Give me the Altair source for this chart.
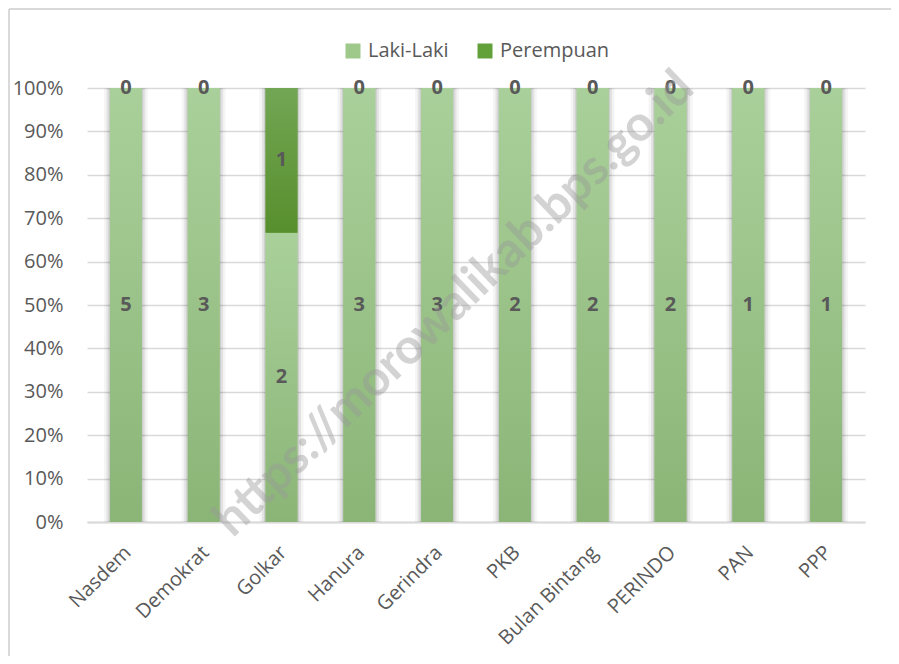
import altair as alt
import pandas as pd

parties = ["Nasdem", "Demokrat", "Golkar", "Hanura", "Gerindra", "PKB",
           "Bulan Bintang", "PERINDO", "PAN", "PPP"]
laki = [5, 3, 2, 3, 3, 2, 2, 2, 1, 1]
perempuan = [0, 0, 1, 0, 0, 0, 0, 0, 0, 0]
series = ["Laki-Laki", "Perempuan"]
colors = ["#9fc98b", "#62a03a"]
y_ticks = [0, 0.1, 0.2, 0.3, 0.4, 0.5, 0.6, 0.7, 0.8, 0.9, 1.0]
watermark = ["https://morowalikab.bps.go.id"]

rows = []
for i, p in enumerate(parties):
    rows.append({"partai": p, "jenis": series[0], "jumlah": laki[i], "urut": 0})
    rows.append({"partai": p, "jenis": series[1], "jumlah": perempuan[i], "urut": 1})
df = pd.DataFrame(rows)

FONT = "Open Sans"
TXT = "#595959"

base = alt.Chart(df).transform_stack(
    stack="jumlah", groupby=["partai"], as_=["y0", "y1"], offset="normalize",
    sort=[alt.SortField("urut", order="ascending")]
).transform_calculate(mid="(datum.y0 + datum.y1) / 2")

x_enc = alt.X("partai:N", sort=parties,
              scale=alt.Scale(paddingInner=0.59, paddingOuter=0.295),
              axis=alt.Axis(title=None, labelAngle=-45, labelFontSize=20, labelColor=TXT,
                            labelFont=FONT, domainColor="#d9d9d9", domainWidth=2,
                            ticks=False, labelPadding=20, labelOffset=-5))
y_enc = alt.Y("y1:Q", scale=alt.Scale(domain=[0, 1]),
              axis=alt.Axis(title=None, format="%", values=y_ticks, labelFontSize=20,
                            labelColor=TXT, labelFont=FONT, gridColor="#d9d9d9",
                            gridWidth=1.5, domain=False, ticks=False, labelPadding=24))

shadow1 = base.mark_bar(size=44, color="#000000", opacity=0.04).encode(x=x_enc, y=y_enc, y2="y0:Q")
shadow2 = base.mark_bar(size=39, color="#000000", opacity=0.07).encode(x=x_enc, y=y_enc, y2="y0:Q")
shadow3 = base.mark_bar(size=35, color="#000000", opacity=0.09).encode(x=x_enc, y=y_enc, y2="y0:Q")

solid = base.mark_bar().encode(
    x=x_enc, y=y_enc, y2="y0:Q",
    color=alt.Color("jenis:N", scale=alt.Scale(domain=series, range=colors),
                    legend=alt.Legend(orient="none", legendX=256, legendY=-47,
                                      direction="horizontal", title=None,
                                      symbolType="square", symbolSize=225,
                                      symbolStrokeWidth=0,
                                      labelFontSize=20, labelColor=TXT, labelFont=FONT,
                                      labelOffset=5, columnPadding=26, padding=0)))

grad_l = base.transform_filter(alt.datum.jenis == series[0]).mark_bar(
    fill={"gradient": "linear", "x1": 0, "x2": 0, "y1": 0, "y2": 1,
          "stops": [{"offset": 0, "color": "#a9d09a"}, {"offset": 1, "color": "#8bb577"}]}
).encode(x=x_enc, y=y_enc, y2="y0:Q")

grad_p = base.transform_filter(alt.datum.jenis == series[1]).mark_bar(
    fill={"gradient": "linear", "x1": 0, "x2": 0, "y1": 0, "y2": 1,
          "stops": [{"offset": 0, "color": "#72a654"}, {"offset": 1, "color": "#588f2d"}]}
).encode(x=x_enc, y=y_enc, y2="y0:Q")

labels = base.mark_text(font=FONT, fontSize=20, fontWeight="bold", color=TXT,
                        baseline="middle").encode(
    x=x_enc, y=alt.Y("mid:Q", scale=alt.Scale(domain=[0, 1])), text="jumlah:Q")

one = alt.Chart(pd.DataFrame({"t": watermark}))
border_top = one.mark_rule(color="#d9d9d9", strokeWidth=2).encode(
    x=alt.value(-78), x2=alt.value(810), y=alt.value(-79))
border_left = one.mark_rule(color="#d9d9d9", strokeWidth=2).encode(
    x=alt.value(-78), y=alt.value(-79), y2=alt.value(700))

wm = one.mark_text(font="Lato", fontSize=49, fontWeight="bold", color="#999999",
                   opacity=0.42, angle=316, align="center", baseline="middle").encode(
    x=alt.value(367), y=alt.value(216), text="t:N")

chart = alt.layer(shadow1, shadow2, shadow3, solid, grad_l, grad_p, labels, wm,
                  border_top, border_left).properties(
    width=778, height=434,
    autosize=alt.AutoSizeParams(type="none"),
    padding={"left": 79, "top": 80, "right": 26, "bottom": 134},
    background="white"
).configure_view(stroke=None)

chart.save("out.html", embed_options={"renderer": "svg", "actions": False})
